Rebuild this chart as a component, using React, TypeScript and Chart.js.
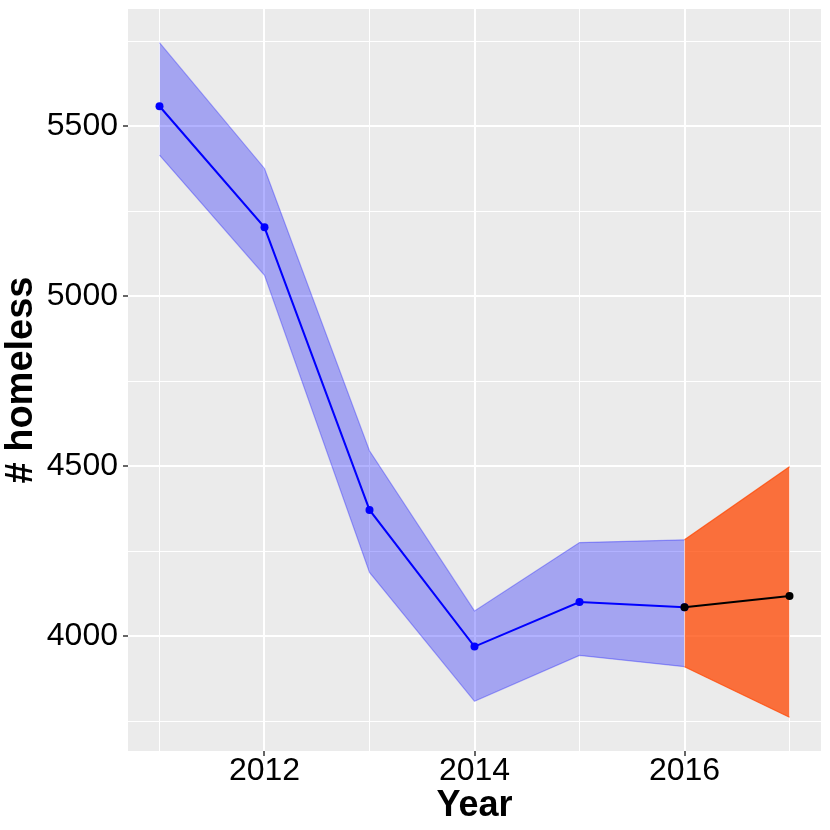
import React, { useEffect, useRef } from 'react';
import { Chart, registerables } from 'chart.js';

Chart.register(...registerables);

// ---- data ----
const years = [2011, 2012, 2013, 2014, 2015, 2016];
const observed = [5559, 5203, 4372, 3970, 4101, 4086];
const observedUpper = [5746, 5376, 4546, 4075, 4276, 4284];
const observedLower = [5415, 5062, 4188, 3809, 3944, 3911];

const forecastYears = [2016, 2017];
const forecast = [4086, 4119];
const forecastUpper = [4284, 4499];
const forecastLower = [3911, 3762];

const xGridValues = [2011, 2012, 2013, 2014, 2015, 2016, 2017];
const xLabelValues = [2012, 2014, 2016];
const yGridValues = [3750, 4000, 4250, 4500, 4750, 5000, 5250, 5500, 5750];
const yLabelValues = [4000, 4500, 5000, 5500];

const xTitle = 'Year';
const yTitle = '# homeless';

const pts = (xs: number[], ys: number[]) => xs.map((x, i) => ({ x, y: ys[i] }));

const panelBg = {
  id: 'panelBg',
  beforeDraw(chart: any) {
    const { ctx, chartArea } = chart;
    ctx.save();
    ctx.fillStyle = '#FFFFFF';
    ctx.fillRect(0, 0, chart.width, chart.height);
    ctx.fillStyle = '#EBEBEB';
    ctx.fillRect(chartArea.left, chartArea.top, chartArea.right - chartArea.left, chartArea.bottom - chartArea.top);
    ctx.restore();
  },
};

export default function App() {
  const ref = useRef<HTMLCanvasElement | null>(null);

  useEffect(() => {
    if (!ref.current) return;
    const blueBand = 'rgba(0,0,255,0.3)';
    const orangeBand = 'rgba(255,69,0,0.75)';
    const chart = new Chart(ref.current, {
      type: 'line',
      data: {
        datasets: [
          {
            data: pts(years, observed),
            borderColor: '#0000FF',
            backgroundColor: '#0000FF',
            borderWidth: 2,
            pointRadius: 4,
            pointBorderWidth: 0,
            pointBackgroundColor: '#0000FF',
            fill: false,
            order: 1,
          },
          {
            data: pts(forecastYears, forecast),
            borderColor: '#000000',
            backgroundColor: '#000000',
            borderWidth: 2,
            pointRadius: 4,
            pointBorderWidth: 0,
            pointBackgroundColor: '#000000',
            fill: false,
            order: 0,
          },
          {
            data: pts(years, observedUpper),
            borderColor: blueBand,
            backgroundColor: blueBand,
            borderWidth: 1.2,
            pointRadius: 0,
            fill: '+1',
            order: 3,
          },
          {
            data: pts(years, observedLower),
            borderColor: blueBand,
            backgroundColor: blueBand,
            borderWidth: 1.2,
            pointRadius: 0,
            fill: false,
            order: 3,
          },
          {
            data: pts(forecastYears, forecastUpper),
            borderColor: orangeBand,
            backgroundColor: orangeBand,
            borderWidth: 1.2,
            pointRadius: 0,
            fill: '+1',
            order: 2,
          },
          {
            data: pts(forecastYears, forecastLower),
            borderColor: orangeBand,
            backgroundColor: orangeBand,
            borderWidth: 1.2,
            pointRadius: 0,
            fill: false,
            order: 2,
          },
        ],
      },
      options: {
        responsive: false,
        animation: false,
        events: [],
        layout: { padding: { left: 0, top: 9, right: 9, bottom: 0 } },
        plugins: {
          legend: { display: false },
          tooltip: { enabled: false },
        },
        elements: { line: { tension: 0 } },
        scales: {
          x: {
            type: 'linear',
            min: 2010.7,
            max: 2017.3,
            afterBuildTicks: (s: any) => {
              s.ticks = xGridValues.map((v) => ({ value: v }));
            },
            afterFit: (s: any) => {
              s.height = 79;
              s.paddingLeft = 0;
              s.paddingRight = 0;
              s.paddingTop = 0;
              s.paddingBottom = 0;
            },
            border: { display: false },
            grid: {
              color: '#FFFFFF',
              lineWidth: (c: any) => (xLabelValues.includes(c.tick?.value) ? 2 : 1),
              tickLength: 5,
              tickWidth: 1.5,
              tickColor: (c: any) => (xLabelValues.includes(c.tick?.value) ? '#333333' : 'rgba(0,0,0,0)'),
            },
            ticks: {
              autoSkip: false,
              maxRotation: 0,
              minRotation: 0,
              padding: 2.5,
              color: '#000000',
              font: { family: 'Liberation Sans', size: 32, lineHeight: 0.8 },
              callback: (v: any) => (xLabelValues.includes(Number(v)) ? String(v) : ''),
            },
            title: {
              display: true,
              text: xTitle,
              color: '#000000',
              font: { family: 'Liberation Sans', size: 36, weight: 'bold', lineHeight: 1 },
              padding: { top: 0, bottom: 5.5 },
            },
          },
          y: {
            type: 'linear',
            min: 3663,
            max: 5845,
            afterBuildTicks: (s: any) => {
              s.ticks = yGridValues.map((v) => ({ value: v }));
            },
            afterFit: (s: any) => {
              s.width = 128;
              s.paddingLeft = 0;
              s.paddingRight = 0;
              s.paddingTop = 0;
              s.paddingBottom = 0;
            },
            border: { display: false },
            grid: {
              color: '#FFFFFF',
              lineWidth: (c: any) => (yLabelValues.includes(c.tick?.value) ? 2 : 1),
              tickLength: 5,
              tickWidth: 1.5,
              tickColor: (c: any) => (yLabelValues.includes(c.tick?.value) ? '#333333' : 'rgba(0,0,0,0)'),
            },
            ticks: {
              autoSkip: false,
              padding: 5,
              color: '#000000',
              font: { family: 'Liberation Sans', size: 32 },
              callback: (v: any) => (yLabelValues.includes(Number(v)) ? String(v) : ''),
            },
            title: {
              display: true,
              text: yTitle,
              color: '#000000',
              font: { family: 'Liberation Sans', size: 38, weight: 'bold', lineHeight: 1 },
              padding: { top: 3, bottom: 0 },
            },
          },
        },
      },
      plugins: [panelBg],
    } as any);
    return () => chart.destroy();
  }, []);

  return (
    <div style={{ position: 'absolute', left: 0, top: 0, width: 830, height: 830 }}>
      <canvas ref={ref} width={830} height={830} style={{ display: 'block', width: 830, height: 830 }} />
    </div>
  );
}
